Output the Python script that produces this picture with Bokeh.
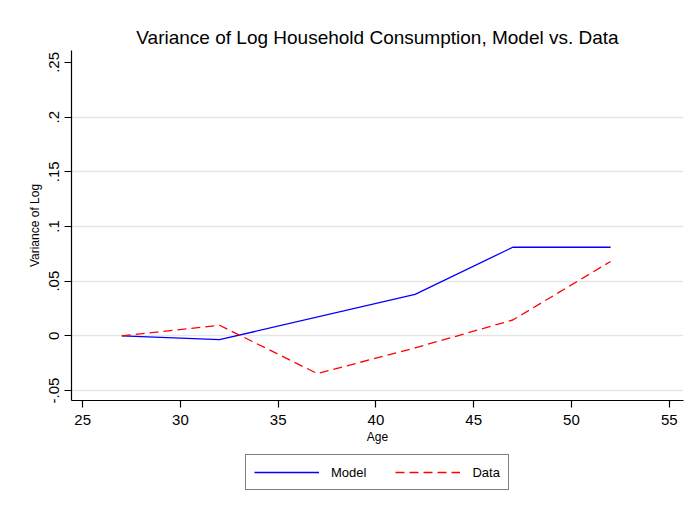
from bokeh.plotting import figure
from bokeh.layouts import column
from bokeh.models import FixedTicker, Range1d, Legend, LegendItem
from bokeh.embed import file_html
from bokeh.resources import INLINE

age = [27, 32, 37, 42, 47, 52]
model_age = [27, 32, 42, 47, 52]
model = [0.0, -0.0035, 0.038, 0.081, 0.081]
data = [0.0, 0.0097, -0.0345, -0.011, 0.0145, 0.068]

x_ticks = [25, 30, 35, 40, 45, 50, 55]
y_ticks = [-0.05, 0.0, 0.05, 0.1, 0.15, 0.2, 0.25]
y_tick_labels = ["-.05", "0", ".05", ".1", ".15", ".2", ".25"]
grid_ticks = [-0.05, 0.0, 0.05, 0.1, 0.15, 0.2]
series_names = ["Model", "Data"]

FONT = "Liberation Sans"
BLUE = "#0000ff"
RED = "#ff0000"
DASH = "9 5"

p = figure(width=695, height=446, output_backend="svg", toolbar_location=None,
           x_range=Range1d(24.43, 55.73), y_range=Range1d(-0.0591, 0.2609),
           min_border_left=71, min_border_right=12, min_border_top=50, min_border_bottom=44)
p.outline_line_color = None
p.background_fill_color = "white"
p.border_fill_color = "white"

p.title.text = "Variance of Log Household Consumption, Model vs. Data"
p.title.align = "center"
p.title.text_font = FONT
p.title.text_font_size = "19px"
p.title.text_font_style = "normal"
p.title.text_color = "black"
p.title.offset = 0
p.title.standoff = 6

p.xaxis.ticker = FixedTicker(ticks=x_ticks)
p.yaxis.ticker = FixedTicker(ticks=y_ticks)
p.yaxis.major_label_overrides = {t: l for t, l in zip(y_ticks, y_tick_labels)}
p.yaxis.major_label_orientation = "vertical"
for ax in (p.xaxis, p.yaxis):
    ax.axis_line_color = "black"
    ax.axis_line_width = 1.2
    ax.major_tick_line_color = "black"
    ax.major_tick_line_width = 1.2
    ax.major_tick_out = 7
    ax.major_tick_in = 0
    ax.minor_tick_line_color = None
    ax.major_label_text_font = FONT
    ax.major_label_text_font_size = "15px"
    ax.major_label_text_color = "black"
    ax.axis_label_text_font = FONT
    ax.axis_label_text_font_size = "12px"
    ax.axis_label_text_font_style = "normal"
    ax.axis_label_text_color = "black"
p.xaxis.axis_label = "Age"
p.yaxis.axis_label = "Variance of Log"
p.xaxis.major_label_standoff = 7
p.xaxis.axis_label_standoff = 2
p.yaxis.major_label_standoff = 6
p.yaxis.axis_label_standoff = 4

p.xgrid.grid_line_color = None
p.ygrid.ticker = FixedTicker(ticks=grid_ticks)
p.ygrid.grid_line_color = "#e6e6e6"
p.ygrid.grid_line_width = 1.5

p.line(model_age, model, line_color=BLUE, line_width=1.3)
p.line(age, data, line_color=RED, line_width=1.3, line_dash=DASH)

# legend strip below the plot (its lines lie outside its own view; only the legend shows)
q = figure(width=695, height=66, output_backend="svg", toolbar_location=None,
           x_axis_location=None, y_axis_location=None,
           min_border_left=0, min_border_right=0, min_border_top=0, min_border_bottom=0,
           x_range=Range1d(0, 1), y_range=Range1d(0, 1))
q.outline_line_color = None
q.grid.grid_line_color = None
q.background_fill_color = "white"
q.border_fill_color = "white"
lm = q.line(model_age, model, line_color=BLUE, line_width=1.3)
ld = q.line(age, data, line_color=RED, line_width=1.3, line_dash=DASH)

legend = Legend(items=[LegendItem(label=series_names[0], renderers=[lm]),
                       LegendItem(label=series_names[1], renderers=[ld])],
                orientation="horizontal", location=(174, 22))
legend.border_line_color = "black"
legend.border_line_width = 1
legend.background_fill_color = "white"
legend.background_fill_alpha = 1
legend.label_text_font = FONT
legend.label_text_font_size = "13px"
legend.label_text_color = "black"
legend.glyph_width = 65
legend.glyph_height = 18
legend.label_standoff = 12
legend.spacing = 29
legend.padding = 8
legend.margin = 0
q.add_layout(legend, "center")

layout = column(p, q, spacing=0)
open("out.html", "w").write(file_html(layout, INLINE))
